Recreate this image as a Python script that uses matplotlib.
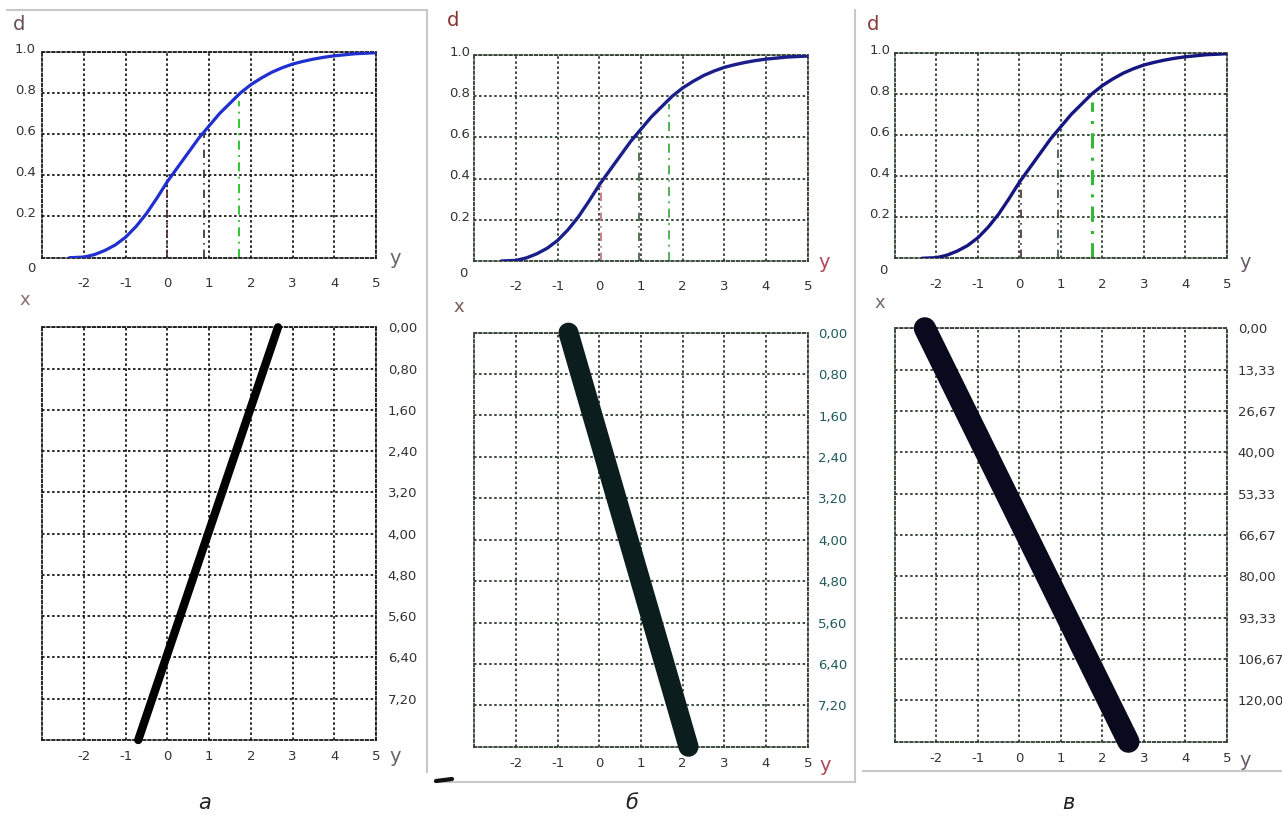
import matplotlib
matplotlib.use("Agg")
import matplotlib.pyplot as plt
from matplotlib.transforms import ScaledTranslation
from matplotlib.lines import Line2D

# ---------------- data ----------------
# distribution curve d(y), same in all three panels
curve_y = [-2.35, -2.0, -1.75, -1.5, -1.25, -1.0, -0.75, -0.5, -0.25, 0.0, 0.25, 0.5, 0.75,
           1.0, 1.25, 1.5, 1.75, 2.0, 2.25, 2.5, 2.75, 3.0, 3.25, 3.5, 3.75, 4.0, 4.5, 5.0]
curve_d = [0.0, 0.003, 0.015, 0.035, 0.062, 0.10, 0.152, 0.215, 0.29, 0.37, 0.44, 0.51, 0.58,
           0.64, 0.70, 0.75, 0.80, 0.84, 0.872, 0.90, 0.922, 0.94, 0.953, 0.964, 0.973, 0.98, 0.99, 0.995]

# vertical reference lines in the upper panels (position on y, height on d)
ref_pos_a = [0.0, 0.88, 1.72]
ref_pos_b = [0.03, 0.96, 1.68]
ref_pos_c = [0.03, 0.94, 1.74]
ref_top = [0.37, 0.60, 0.76]

# straight lines in the lower panels: y value at x start / x end
line_a_y = [2.65, -0.70]
line_a_x = [0.0, 8.0]
line_b_y = [-0.74, 2.14]
line_b_x = [0.0, 8.0]
line_c_y = [-2.28, 2.63]
line_c_x = [0.0, 133.33]

# tick labels
y_ticks = [-2, -1, 0, 1, 2, 3, 4, 5]
y_labels = ["-2", "-1", "0", "1", "2", "3", "4", "5"]
d_ticks = [0.2, 0.4, 0.6, 0.8, 1.0]
d_labels = ["0.2", "0.4", "0.6", "0.8", "1.0"]
x_ticks_ab = [0.0, 0.8, 1.6, 2.4, 3.2, 4.0, 4.8, 5.6, 6.4, 7.2]
x_labels_ab = ["0,00", "0,80", "1,60", "2,40", "3,20", "4,00", "4,80", "5,60", "6,40", "7,20"]
x_ticks_c = [0.0, 13.33, 26.67, 40.0, 53.33, 66.67, 80.0, 93.33, 106.67, 120.0]
x_labels_c = ["0,00", "13,33", "26,67", "40,00", "53,33", "66,67", "80,00", "93,33", "106,67", "120,00"]
captions = ["а", "б", "в"]

# ---------------- figure ----------------
W, H = 1282, 821
fig = plt.figure(figsize=(W / 100, H / 100), dpi=100)
fig.patch.set_facecolor("white")


def box(x0, y0, x1, y1):
    return [x0 / W, 1 - y1 / H, (x1 - x0) / W, (y1 - y0) / H]


def P(x, y):
    return (x / W, 1 - y / H)


DOT = (0, (1.4, 1.4))
GRID_LW = 1.3
TICK_FS = 9.5

panels = [
    dict(top=(42.3, 51.7, 376, 257.7), bot=(42.3, 327.3, 376, 740),
         grid="#1a1a1a", tick_col="#333333", right_col="#333333",
         curve_col="#1f2fd0", curve_lw=2.3,
         ref_pos=ref_pos_a, ref_cols=["#5a2a2a", "#2a2a2a", "#22c022"], ref_lw=[1.2, 1.2, 1.3],
         line_x=line_a_x, line_y=line_a_y, line_col="#000000", line_lw=6.0,
         xticks=x_ticks_ab, xlabels=x_labels_ab, xmax=8.0,
         d_pos=(19, 25), d_col="#6a5050", x_pos=(25, 300), x_col="#8a7070",
         yt_pos=(395, 258), yb_pos=(395, 757), y_col="#666666",
         zero_pos=(35, 268), ylab_pad=4.5, right_pad=8.5, cap_pos=(205, 803)),
    dict(top=(474.3, 55, 807.7, 261), bot=(474.3, 332.7, 807.7, 746.7),
         grid="#2f3f2f", tick_col="#333333", right_col="#1f5a5a",
         curve_col="#1a1f8a", curve_lw=2.4,
         ref_pos=ref_pos_b, ref_cols=["#c06a78", "#3a5a3a", "#44aa44"], ref_lw=[1.2, 1.2, 1.3],
         line_x=line_b_x, line_y=line_b_y, line_col="#0c1d1d", line_lw=14.5,
         xticks=x_ticks_ab, xlabels=x_labels_ab, xmax=8.0,
         d_pos=(453, 21), d_col="#8a3030", x_pos=(459, 307), x_col="#7a5a5a",
         yt_pos=(824, 263), yb_pos=(825, 765), y_col="#b04858",
         zero_pos=(467, 273), ylab_pad=3.0, right_pad=7.5, cap_pos=(632, 803)),
    dict(top=(895, 52.7, 1226.7, 258.3), bot=(895, 328.3, 1226.7, 741.7),
         grid="#2f3f2f", tick_col="#333333", right_col="#333333",
         curve_col="#15167f", curve_lw=2.4,
         ref_pos=ref_pos_c, ref_cols=["#4a2a2a", "#3a4a3a", "#33b833"], ref_lw=[1.2, 1.2, 2.2],
         line_x=line_c_x, line_y=line_c_y, line_col="#0a0a1e", line_lw=16.0,
         xticks=x_ticks_c, xlabels=x_labels_c, xmax=133.33,
         d_pos=(873, 25), d_col="#8a3a3a", x_pos=(880, 303), x_col="#7a6a6a",
         yt_pos=(1245, 263), yb_pos=(1245, 760), y_col="#6a5a6a",
         zero_pos=(887, 270), ylab_pad=3.5, right_pad=8.0, cap_pos=(1068, 803)),
]


def style_axes(ax, gcol):
    for s in ax.spines.values():
        s.set_linestyle(DOT)
        s.set_color(gcol)
        s.set_linewidth(GRID_LW)
    ax.grid(True, linestyle=DOT, color=gcol, linewidth=GRID_LW)
    ax.set_axisbelow(True)
    ax.tick_params(length=0)


for i, p in enumerate(panels):
    # ---------- upper panel: d(y) ----------
    ax = fig.add_axes(box(*p["top"]))
    style_axes(ax, p["grid"])
    ax.set_xlim(-3, 5)
    ax.set_ylim(0, 1)
    ax.set_xticks(y_ticks)
    ax.set_xticklabels(y_labels, fontsize=TICK_FS, color=p["tick_col"])
    ax.set_yticks(d_ticks)
    ax.set_yticklabels(d_labels, fontsize=TICK_FS, color=p["tick_col"])
    ax.tick_params(axis="x", pad=14)
    ax.tick_params(axis="y", pad=p["ylab_pad"])
    for lab in ax.get_yticklabels():
        lab.set_transform(lab.get_transform() + ScaledTranslation(0, 3 / 72, fig.dpi_scale_trans))
    for xp, top, c, lw in zip(p["ref_pos"], ref_top, p["ref_cols"], p["ref_lw"]):
        ax.plot([xp, xp], [0, top], color=c, lw=lw, linestyle=(0, (5, 3, 1, 3)), zorder=2)
    ax.plot(curve_y, curve_d, color=p["curve_col"], lw=p["curve_lw"], zorder=3,
            solid_capstyle="round", solid_joinstyle="round")
    fig.text(*P(*p["zero_pos"]), "0", fontsize=TICK_FS, color=p["tick_col"], ha="right", va="center")
    fig.text(*P(*p["d_pos"]), "d", fontsize=14, color=p["d_col"], ha="center", va="center")
    fig.text(*P(*p["yt_pos"]), "y", fontsize=14, color=p["y_col"], ha="center", va="center")

    # ---------- lower panel: x(y) ----------
    bx = fig.add_axes(box(*p["bot"]))
    style_axes(bx, p["grid"])
    bx.set_xlim(-3, 5)
    bx.set_ylim(p["xmax"], 0)
    bx.set_xticks(y_ticks)
    bx.set_xticklabels(y_labels, fontsize=TICK_FS, color=p["tick_col"])
    bx.yaxis.tick_right()
    bx.set_yticks(p["xticks"])
    bx.set_yticklabels(p["xlabels"], fontsize=TICK_FS, color=p["right_col"])
    bx.tick_params(axis="x", pad=7.5)
    bx.tick_params(axis="y", pad=p["right_pad"])
    bx.plot(p["line_y"], p["line_x"], color=p["line_col"], lw=p["line_lw"],
            solid_capstyle="round", zorder=3, clip_on=False)
    fig.text(*P(*p["x_pos"]), "x", fontsize=13, color=p["x_col"], ha="center", va="center")
    fig.text(*P(*p["yb_pos"]), "y", fontsize=14, color=p["y_col"], ha="center", va="center")

    # caption
    fig.text(*P(*p["cap_pos"]), captions[i], fontsize=15, style="italic", color="#222222",
             ha="center", va="center")

# ---------- screenshot frame lines ----------
frame_col = "#c8c8c8"
frames = [
    ((7, 10), (427, 10)),
    ((427, 10), (427, 772)),
    ((435, 782), (855, 782)),
    ((855, 10), (855, 782)),
    ((863, 771), (1282, 771)),
]
for (xa, ya), (xb, yb) in frames:
    (fx0, fy0), (fx1, fy1) = P(xa, ya), P(xb, yb)
    fig.add_artist(Line2D([fx0, fx1], [fy0, fy1], color=frame_col, lw=1.5, transform=fig.transFigure))
(fx0, fy0), (fx1, fy1) = P(436, 781), P(452, 779)
fig.add_artist(Line2D([fx0, fx1], [fy0, fy1], color="#111111", lw=3, transform=fig.transFigure,
                      solid_capstyle="round"))

fig.savefig("out.png", dpi=100, facecolor="white")
